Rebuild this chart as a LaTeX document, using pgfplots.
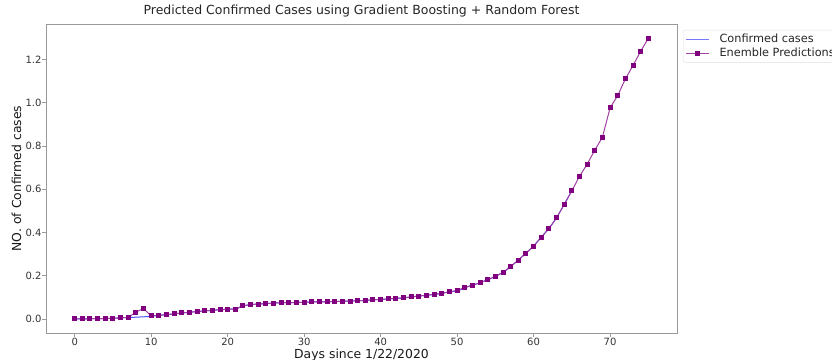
\documentclass[border=0pt]{standalone}
\usepackage{fontspec}
\setmainfont{DejaVu Sans}
\usepackage{pgfplots}
\pgfplotsset{compat=1.18}
\definecolor{spine}{gray}{0.6}
\definecolor{txt}{gray}{0.2}
\definecolor{mplpurple}{RGB}{128,0,128}
\definecolor{mplblue}{RGB}{80,80,255}
\definecolor{legblue}{RGB}{120,120,255}
\begin{document}
\begin{tikzpicture}
\begin{axis}[
  at={(46pt,26pt)}, anchor=south west,
  width=631pt, height=309pt, scale only axis,
  xmin=-3.75, xmax=78.75, ymin=-65000, ymax=1365000,
  axis line style={spine, line width=0.8pt},
  tick align=outside, major tick length=3.5pt,
  tick style={spine, line width=0.8pt},
  xtick={0,10,20,30,40,50,60,70},
  ytick={0,200000,400000,600000,800000,1000000,1200000},
  yticklabels={0.0,0.2,0.4,0.6,0.8,1.0,1.2},
  scaled y ticks=false,
  xtick pos=bottom, ytick pos=left,
  /pgf/number format/assume math mode=true,
  tick label style={font=\fontsize{10}{12}\selectfont, text=txt},
  xticklabel style={anchor=base, inner sep=0pt, yshift=-9.2pt},
  yticklabel style={anchor=east, inner sep=0pt, xshift=-0.8pt},
  title={Predicted Confirmed Cases using Gradient Boosting + Random Forest},
  title style={at={(0.5,1)}, anchor=base, yshift=3.5pt, font=\fontsize{12.5}{15}\selectfont, text=black!85},
  xlabel={Days since 1/22/2020},
  xlabel style={at={(axis description cs:0.5,-0.084)}, anchor=base, font=\fontsize{12.4}{15}\selectfont, text=black!90},
  ylabel={NO. of Confirmed cases},
  ylabel style={at={(axis description cs:-0.0396,0.5)}, anchor=base, font=\fontsize{12.4}{15}\selectfont, text=black!90},
  legend style={at={(1.0095,0.9806)}, anchor=north west, draw=gray!25, rounded corners=2pt,
    font=\fontsize{11.3}{13}\selectfont, text=black!85, inner sep=2pt, row sep=0pt,
    cells={anchor=west}},
  clip=true,
]
\addplot[color=mplblue, line width=1pt, no markers,
  legend image code/.code={\draw[sharp corners, draw=legblue, line width=1.2pt] (0cm,0cm) -- (0.82cm,0cm); \path (1.1cm,0cm);}] coordinates {
(0,555) (1,654) (2,941) (3,1434) (4,2118) (5,2927) (6,5578) (7,6166) (8,8234) (9,9927)
(10,12038) (11,16787) (12,19881) (13,23892) (14,27635) (15,30794) (16,34391) (17,37120) (18,40150) (19,42762)
(20,44802) (21,45221) (22,60368) (23,66885) (24,69030) (25,71224) (26,73258) (27,75136) (28,75639) (29,76197)
(30,76819) (31,78572) (32,78958) (33,79561) (34,80406) (35,81388) (36,82746) (37,84112) (38,86011) (39,88369)
(40,90306) (41,92840) (42,95120) (43,97886) (44,101801) (45,105847) (46,109821) (47,113590) (48,118620) (49,125875)
(50,128352) (51,145205) (52,156101) (53,167454) (54,181574) (55,197102) (56,214821) (57,242570) (58,272208) (59,304507)
(60,336953) (61,378235) (62,418045) (63,467653) (64,529591) (65,593291)
};
\addlegendentry{Confirmed cases}
\addplot[color=mplpurple!75!white, line width=1pt, mark=square*, mark size=2pt,
  mark options={fill=mplpurple, draw=mplpurple},
  legend image code/.code={\draw[sharp corners, draw=mplpurple!75!white, line width=1.2pt] (0cm,0cm) -- (0.82cm,0cm); \fill[sharp corners, mplpurple] (0.41cm,0cm) +(-2pt,-2pt) rectangle +(2pt,2pt); \path (1.1cm,0cm);}] coordinates {
(0,555) (1,654) (2,941) (3,1434) (4,2118) (5,2927) (6,5578) (7,6166) (8,32000) (9,48000)
(10,14000) (11,16787) (12,19881) (13,23892) (14,27635) (15,30794) (16,34391) (17,37120) (18,40150) (19,42762)
(20,44802) (21,45221) (22,60368) (23,66885) (24,69030) (25,71224) (26,73258) (27,75136) (28,75639) (29,76197)
(30,76819) (31,78572) (32,78958) (33,79561) (34,80406) (35,81388) (36,82746) (37,84112) (38,86011) (39,88369)
(40,90306) (41,92840) (42,95120) (43,97886) (44,101801) (45,105847) (46,109821) (47,113590) (48,118620) (49,125875)
(50,132000) (51,145205) (52,156101) (53,167454) (54,181574) (55,197102) (56,214821) (57,242570) (58,272208) (59,304507)
(60,336953) (61,378235) (62,418045) (63,467653) (64,529591) (65,593291) (66,660000) (67,716000) (68,781000) (69,841000)
(70,977000) (71,1034000) (72,1111000) (73,1173000) (74,1239000) (75,1299000)
};
\addlegendentry{Enemble Predictions}
\node[anchor=south west, inner sep=0pt, font=\fontsize{5.5}{6}\selectfont, text=txt] at (rel axis cs:0,1) [yshift=2pt] {1e6};
\end{axis}
\pgfresetboundingbox
\path[use as bounding box] (0,0) rectangle (832pt,359pt);
\end{tikzpicture}
\end{document}
